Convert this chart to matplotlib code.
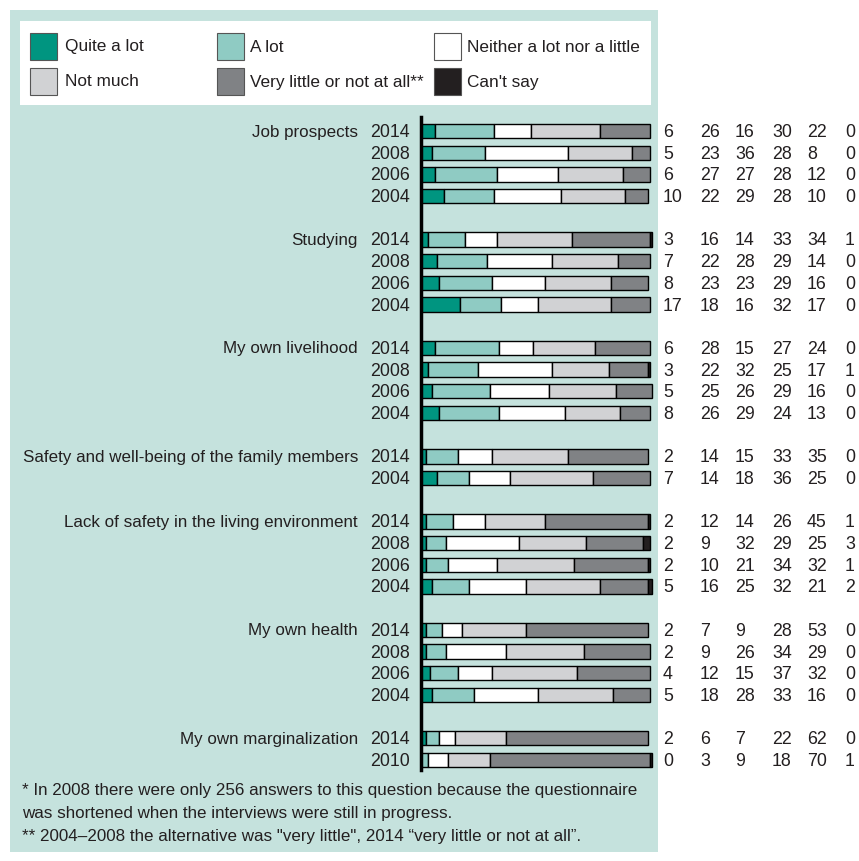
import matplotlib
matplotlib.use("Agg")
import matplotlib.pyplot as plt
from matplotlib.patches import Rectangle

plt.rcParams['font.family'] = ['Liberation Sans', 'DejaVu Sans']

series_labels = ["Quite a lot", "A lot", "Neither a lot nor a little",
                 "Not much", "Very little or not at all**", "Can't say"]
colors = ["#009580", "#8fcbc3", "#ffffff", "#d1d2d4", "#808285", "#231f20"]

categories = ["Job prospects", "Studying", "My own livelihood",
              "Safety and well-being of the family members",
              "Lack of safety in the living environment",
              "My own health", "My own marginalization"]

job_years = ["2014", "2008", "2006", "2004"]
job_values = [[6, 26, 16, 30, 22, 0], [5, 23, 36, 28, 8, 0],
              [6, 27, 27, 28, 12, 0], [10, 22, 29, 28, 10, 0]]
study_years = ["2014", "2008", "2006", "2004"]
study_values = [[3, 16, 14, 33, 34, 1], [7, 22, 28, 29, 14, 0],
                [8, 23, 23, 29, 16, 0], [17, 18, 16, 32, 17, 0]]
liveli_years = ["2014", "2008", "2006", "2004"]
liveli_values = [[6, 28, 15, 27, 24, 0], [3, 22, 32, 25, 17, 1],
                 [5, 25, 26, 29, 16, 0], [8, 26, 29, 24, 13, 0]]
family_years = ["2014", "2004"]
family_values = [[2, 14, 15, 33, 35, 0], [7, 14, 18, 36, 25, 0]]
lack_years = ["2014", "2008", "2006", "2004"]
lack_values = [[2, 12, 14, 26, 45, 1], [2, 9, 32, 29, 25, 3],
               [2, 10, 21, 34, 32, 1], [5, 16, 25, 32, 21, 2]]
health_years = ["2014", "2008", "2006", "2004"]
health_values = [[2, 7, 9, 28, 53, 0], [2, 9, 26, 34, 29, 0],
                 [4, 12, 15, 37, 32, 0], [5, 18, 28, 33, 16, 0]]
margin_years = ["2014", "2010"]
margin_values = [[2, 6, 7, 22, 62, 0], [0, 3, 9, 18, 70, 1]]

groups = [(categories[0], job_years, job_values),
          (categories[1], study_years, study_values),
          (categories[2], liveli_years, liveli_values),
          (categories[3], family_years, family_values),
          (categories[4], lack_years, lack_values),
          (categories[5], health_years, health_values),
          (categories[6], margin_years, margin_values)]

footnotes = ["* In 2008 there were only 256 answers to this question because the questionnaire",
             "was shortened when the interviews were still in progress.",
             "** 2004\u20132008 the alternative was \"very little\", 2014 \u201cvery little or not at all\u201d."]

W, H = 859, 861
fig = plt.figure(figsize=(W / 100, H / 100), dpi=100)
fig.patch.set_facecolor("white")
renderer = fig.canvas.get_renderer()


def fit_size(s, target_px, base=10.0):
    t = fig.text(0, 0, s, fontsize=base)
    w = t.get_window_extent(renderer).width
    t.remove()
    return base * target_px / w


cat_fs = fit_size(categories[3], 335)
leg_fs = min(fit_size(series_labels[2], 173), 13)
num_fs = 12.8
foot_fs = fit_size(footnotes[0], 614)

bg = fig.add_axes([0, 0, 1, 1])
bg.set_xlim(0, W)
bg.set_ylim(H, 0)
bg.axis("off")

panel_color = "#c5e2dd"
txt_color = "#231f20"
bg.add_patch(Rectangle((10, 10), 648, 842, facecolor=panel_color, edgecolor="none"))
bg.add_patch(Rectangle((20, 21), 631, 84, facecolor="white", edgecolor="none"))

# legend
leg_x = [30, 217, 434]
leg_y = [46, 81]
for i, (lab, col) in enumerate(zip(series_labels, colors)):
    r, c = divmod(i, 3)
    x, y = leg_x[c], leg_y[r]
    bg.add_patch(Rectangle((x, y - 13), 27, 27, facecolor=col, edgecolor="#555555", lw=0.8))
    bg.text(x + 35 if c == 0 else x + 33, y + 5.5, lab, fontsize=leg_fs, color=txt_color,
            va="baseline", ha="left")

# bar axes
row_step = 21.69
first_row_y = 131
ax_top, ax_bot = 117, 770
ax_left, ax_right = 421, 650
ax = fig.add_axes([ax_left / W, 1 - ax_bot / H, (ax_right - ax_left) / W, (ax_bot - ax_top) / H])
ax.set_xlim(0, 100)
ax.set_ylim((ax_bot - first_row_y) / row_step, (ax_top - first_row_y) / row_step)
ax.patch.set_alpha(0)
for s in ["top", "right", "bottom"]:
    ax.spines[s].set_visible(False)
ax.spines["left"].set_linewidth(2.5)
ax.spines["left"].set_color("black")
ax.set_xticks([])
ax.set_yticks([])

num_x = [663, 700, 735, 772, 807, 845]
row = 0
for cat, years, vals in groups:
    for j, (yr, v) in enumerate(zip(years, vals)):
        left = 0
        for k, val in enumerate(v):
            if val > 0:
                ax.barh(row, val, left=left, height=0.66, color=colors[k],
                        edgecolor="black", linewidth=1.0, clip_on=False)
            left += val
        ypix = first_row_y + row * row_step
        base_y = ypix + 6
        bg.text(410, base_y, yr, fontsize=num_fs, color=txt_color, ha="right", va="baseline")
        if j == 0:
            bg.text(358, base_y - 0.5, cat, fontsize=cat_fs, color=txt_color, ha="right", va="baseline")
        for k, val in enumerate(v):
            bg.text(num_x[k], base_y, str(val), fontsize=num_fs, color=txt_color, ha="left", va="baseline")
        row += 1
    row += 1

for i, line in enumerate(footnotes):
    bg.text(22, 791 + i * 22.5, line, fontsize=foot_fs, color=txt_color, ha="left", va="center")

fig.savefig("out.png", dpi=100)
